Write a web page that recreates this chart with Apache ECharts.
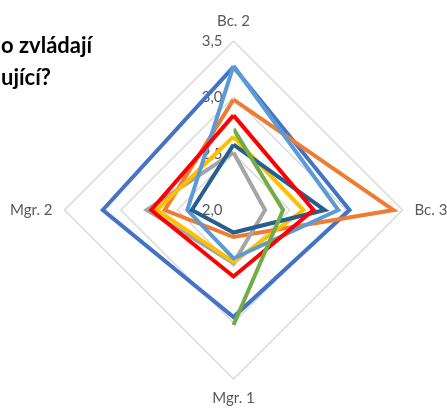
<!DOCTYPE html>
<html>
<head>
<meta charset="utf-8">
<script src="https://cdn.jsdelivr.net/npm/echarts@6/dist/echarts.min.js"></script>
<style>
  html, body { margin: 0; padding: 0; background: #fff; }
  #chart { width: 447px; height: 408px; }
</style>
</head>
<body>
<div id="chart"></div>
<script>
// categories in reading order: top, right, bottom, left
const categories = ["Bc. 2", "Bc. 3", "Mgr. 1", "Mgr. 2"];
const tickValues = [2.0, 2.5, 3.0, 3.5];

const seriesNames = ["Řada 1", "Řada 2", "Řada 3", "Řada 4", "Řada 5", "Řada 6", "Řada 7", "Řada 8"];
const blueValues = [3.27, 3.03, 2.95, 3.16];
const orangeValues = [2.98, 3.42, 2.24, 2.61];
const grayValues = [2.51, 2.28, 2.47, 2.77];
const yellowValues = [2.65, 2.62, 2.46, 2.68];
const lightBlueValues = [3.28, 2.93, 2.43, 2.41];
const greenValues = [2.72, 2.44, 3.02, null]; // no value for Mgr. 2
const darkBlueValues = [2.58, 2.81, 2.2, 2.37];
const redValues = [2.84, 2.71, 2.59, 2.73];

const colors = ["#4472C4", "#ED7D31", "#A5A5A5", "#FFC000", "#5B9BD5", "#70AD47", "#255E91", "#FF0000"];

const chart = echarts.init(document.getElementById("chart"));

const center = [233.5, 210];
const radius = 169;
const font = "Lato, 'Open Sans', sans-serif";

// radar goes counter-clockwise from the top, so reorder: top, left, bottom, right
const radarOrder = [0, 3, 2, 1];
const toRadar = (vals) => radarOrder.map((i) => vals[i]);

function radarSeries(idx, vals) {
  return {
    name: seriesNames[idx],
    type: "radar",
    symbol: "none",
    silent: true,
    lineStyle: { color: colors[idx], width: 4, join: "miter" },
    itemStyle: { color: colors[idx] },
    data: [{ value: toRadar(vals), name: seriesNames[idx] }],
  };
}

chart.setOption({
  animation: false,
  title: {
    text: "o zvládají\nující?",
    left: -4,
    top: 25,
    textStyle: {
      fontFamily: font,
      fontSize: 22,
      fontWeight: "bold",
      color: "#000",
      lineHeight: 32,
    },
  },
  radar: {
    center: center,
    radius: radius,
    shape: "polygon",
    splitNumber: 3,
    indicator: radarOrder.map((i) => ({
      name: categories[i],
      min: tickValues[0],
      max: tickValues[tickValues.length - 1],
    })),
    nameGap: 12,
    axisName: { color: "#595959", fontSize: 15, fontFamily: font },
    axisLine: { show: false },
    axisTick: { show: false },
    splitArea: { show: false },
    splitLine: { lineStyle: { color: "#D9D9D9", width: 1.5 } },
  },
  // polar copy of the same space: used for tick labels and the open green line
  polar: { center: center, radius: radius },
  angleAxis: {
    type: "category",
    data: categories,
    startAngle: 90,
    boundaryGap: false,
    axisLine: { show: false },
    axisTick: { show: false },
    axisLabel: { show: false },
    splitLine: { show: false },
  },
  radiusAxis: {
    min: tickValues[0],
    max: tickValues[tickValues.length - 1],
    interval: 0.5,
    axisLine: { show: false },
    axisTick: { show: false },
    splitLine: { show: false },
    axisLabel: {
      margin: 11,
      color: "#595959",
      fontSize: 15,
      fontFamily: font,
      formatter: (v) => v.toFixed(1).replace(".", ","),
    },
  },
  series: [
    radarSeries(0, blueValues),
    radarSeries(1, orangeValues),
    radarSeries(2, grayValues),
    radarSeries(3, yellowValues),
    radarSeries(4, lightBlueValues),
    {
      name: seriesNames[5],
      type: "line",
      coordinateSystem: "polar",
      symbol: "none",
      silent: true,
      connectNulls: false,
      lineStyle: { color: colors[5], width: 4, join: "miter" },
      itemStyle: { color: colors[5] },
      data: greenValues,
    },
    radarSeries(6, darkBlueValues),
    radarSeries(7, redValues),
  ],
});
</script>
</body>
</html>
